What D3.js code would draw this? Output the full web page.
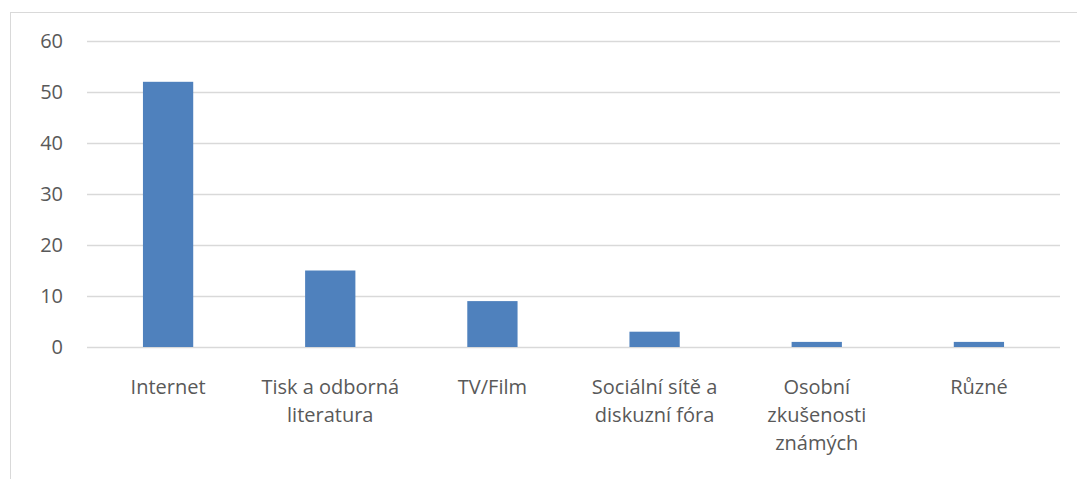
<!DOCTYPE html>
<html>
<head>
<meta charset="utf-8">
<script src="https://cdn.jsdelivr.net/npm/d3@7"></script>
<style>
  body { margin: 0; background: #fff; }
  svg { display: block; }
</style>
</head>
<body>
<svg id="chart" width="1077" height="479"></svg>
<script>
const categories = ["Internet", "Tisk a odborná literatura", "TV/Film", "Sociální sítě a diskuzní fóra", "Osobní zkušenosti známých", "Různé"];
const values = [52, 15, 9, 3, 1, 1];
const yTicks = [0, 10, 20, 30, 40, 50, 60];

const width = 1077, height = 479;
const margin = { top: 41, right: 17, bottom: 132, left: 87 };
const font = "'Open Sans', 'Noto Sans', sans-serif";
const textColor = "#595959";

const svg = d3.select("#chart");

// chart area frame (cut off at right and bottom like the source)
svg.append("rect")
    .attr("x", 10.5).attr("y", 12.5)
    .attr("width", width).attr("height", height)
    .attr("fill", "#fff")
    .attr("stroke", "#d9d9d9")
    .attr("stroke-width", 1);

const x = d3.scaleBand()
    .domain(categories)
    .range([margin.left, width - margin.right])
    .paddingInner(0.69)
    .paddingOuter(0.345);

const y = d3.scaleLinear()
    .domain([0, 60])
    .range([height - margin.bottom, margin.top]);

// gridlines
svg.append("g")
    .selectAll("line")
    .data(yTicks)
    .join("line")
    .attr("x1", margin.left)
    .attr("x2", width - margin.right)
    .attr("y1", d => Math.round(y(d)) + 0.5)
    .attr("y2", d => Math.round(y(d)) + 0.5)
    .attr("stroke", "#d9d9d9")
    .attr("stroke-width", 1.5);

// y tick labels
svg.append("g")
    .selectAll("text")
    .data(yTicks)
    .join("text")
    .attr("x", 63)
    .attr("y", d => y(d))
    .attr("dy", "0.35em")
    .attr("text-anchor", "end")
    .attr("font-family", font)
    .attr("font-size", 20)
    .attr("fill", textColor)
    .text(d => d);

// bars
svg.append("g")
    .selectAll("rect")
    .data(values)
    .join("rect")
    .attr("x", (d, i) => x(categories[i]))
    .attr("y", d => y(d))
    .attr("width", x.bandwidth())
    .attr("height", d => y(0) - y(d))
    .attr("fill", "#4f81bd");

// category labels, wrapped like the source
const maxLine = 150;
const labels = svg.append("g")
    .selectAll("text")
    .data(categories)
    .join("text")
    .attr("x", d => x(d) + x.bandwidth() / 2)
    .attr("y", 394)
    .attr("text-anchor", "middle")
    .attr("font-family", font)
    .attr("font-size", 20)
    .attr("fill", textColor);

labels.each(function (d) {
    const t = d3.select(this);
    const words = d.split(" ");
    let line = [];
    let tspan = t.append("tspan").attr("x", t.attr("x")).attr("dy", 0);
    words.forEach(w => {
        line.push(w);
        tspan.text(line.join(" "));
        if (tspan.node().getComputedTextLength() > maxLine && line.length > 1) {
            line.pop();
            tspan.text(line.join(" "));
            line = [w];
            tspan = t.append("tspan").attr("x", t.attr("x")).attr("dy", 28).text(w);
        }
    });
});
</script>
</body>
</html>
